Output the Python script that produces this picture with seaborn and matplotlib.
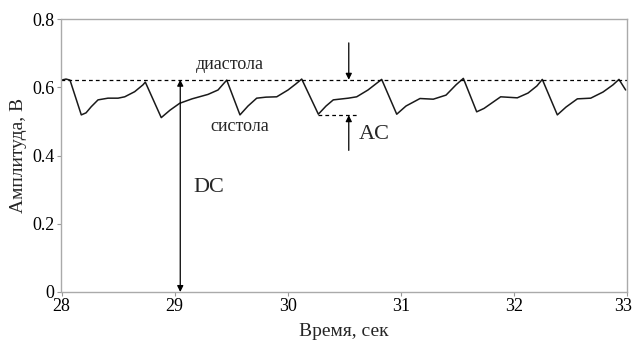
import numpy as np
import pandas as pd
import seaborn as sns
import matplotlib.pyplot as plt
import matplotlib.transforms as mtransforms

# PPG signal (key points per beat)
time_s = [28.00, 28.04, 28.075, 28.175, 28.217, 28.263, 28.323, 28.411, 28.50, 28.559, 28.647, 28.72, 28.741,
          28.882, 28.96, 29.045, 29.154, 29.295, 29.384, 29.461,
          29.578, 29.649, 29.726, 29.808, 29.903, 30.003, 30.073, 30.124,
          30.271, 30.339, 30.403, 30.536, 30.61, 30.71, 30.78, 30.831,
          30.964, 31.046, 31.17, 31.287, 31.40, 31.488, 31.553,
          31.671, 31.736, 31.883, 32.03, 32.125, 32.204, 32.251,
          32.384, 32.461, 32.561, 32.679, 32.788, 32.876, 32.929, 32.988]
amplitude = [0.621, 0.624, 0.621, 0.519, 0.525, 0.543, 0.563, 0.568, 0.568, 0.572, 0.587, 0.607, 0.615,
             0.511, 0.533, 0.553, 0.566, 0.579, 0.592, 0.621,
             0.519, 0.545, 0.568, 0.571, 0.572, 0.592, 0.610, 0.624,
             0.521, 0.545, 0.563, 0.568, 0.572, 0.592, 0.610, 0.623,
             0.521, 0.545, 0.567, 0.565, 0.577, 0.607, 0.626,
             0.528, 0.538, 0.572, 0.569, 0.583, 0.604, 0.623,
             0.519, 0.542, 0.566, 0.568, 0.586, 0.607, 0.623, 0.592]

diastole_level = 0.622
systole_level = 0.518
ac_time = 30.54
dc_time = 29.05

y_ticks = [0, 0.2, 0.4, 0.6, 0.8]
y_tick_labels = ["0", "0.2", "0.4", "0.6", "0.8"]
x_ticks = [28, 29, 30, 31, 32, 33]

df = pd.DataFrame({"t": time_s, "a": amplitude})

sns.set_theme(style="white")
plt.rcParams['font.family'] = ['Liberation Serif', 'DejaVu Serif']

fig = plt.figure(figsize=(6.34, 3.41), dpi=100)
ax = fig.add_axes([61.5 / 634, 1 - 292 / 341, (627 - 61.5) / 634, (292 - 19) / 341])

sns.lineplot(data=df, x="t", y="a", ax=ax, color="#1a1a1a", lw=1.1)

# dashed reference lines
ax.axhline(diastole_level, color="black", lw=0.9, ls=(0, (3, 2.5)))
ax.plot([30.27, 30.62], [systole_level, systole_level], color="black", lw=0.9, ls=(0, (3, 2.5)))

arrow = dict(arrowstyle="-|>", color="black", lw=0.9, mutation_scale=9, shrinkA=0, shrinkB=0)
ax.annotate("", xy=(ac_time, diastole_level), xytext=(ac_time, 0.73), arrowprops=arrow)
ax.annotate("", xy=(ac_time, systole_level), xytext=(ac_time, 0.415), arrowprops=arrow)
ax.annotate("", xy=(dc_time, diastole_level), xytext=(dc_time, 0.0),
            arrowprops=dict(arrowstyle="<|-|>", color="black", lw=0.9, mutation_scale=9, shrinkA=0, shrinkB=0))

ax.text(29.49, 0.668, "диастола", fontsize=13, ha="center", va="center")
ax.text(29.58, 0.484, "систола", fontsize=13, ha="center", va="center")
ax.text(30.63, 0.462, "AC", fontsize=16, ha="left", va="center")
ax.text(29.17, 0.305, "DC", fontsize=16, ha="left", va="center")

ax.set_xlim(28, 33)
ax.set_ylim(0, 0.8)
ax.set_xticks(x_ticks)
ax.set_yticks(y_ticks)
ax.set_yticklabels(y_tick_labels)
ax.tick_params(axis="both", labelsize=13, colors="black", length=3, width=0.8,
               direction="out", bottom=True, left=True)
ax.tick_params(axis="x", pad=1)
ax.tick_params(axis="y", pad=2)
ax.tick_params(axis="both", color="#999999")
for s in ax.spines.values():
    s.set_color("#aaaaaa")
    s.set_linewidth(1.0)

# keep the last x label inside the figure
last = ax.get_xticklabels()[-1]
last.set_transform(last.get_transform() + mtransforms.ScaledTranslation(-4 / 100, 0, fig.dpi_scale_trans))

ax.set_xlabel("Время, сек", fontsize=14, labelpad=6)
ax.set_ylabel("Амплитуда, В", fontsize=14, labelpad=4)

fig.savefig("out.png", dpi=100)
